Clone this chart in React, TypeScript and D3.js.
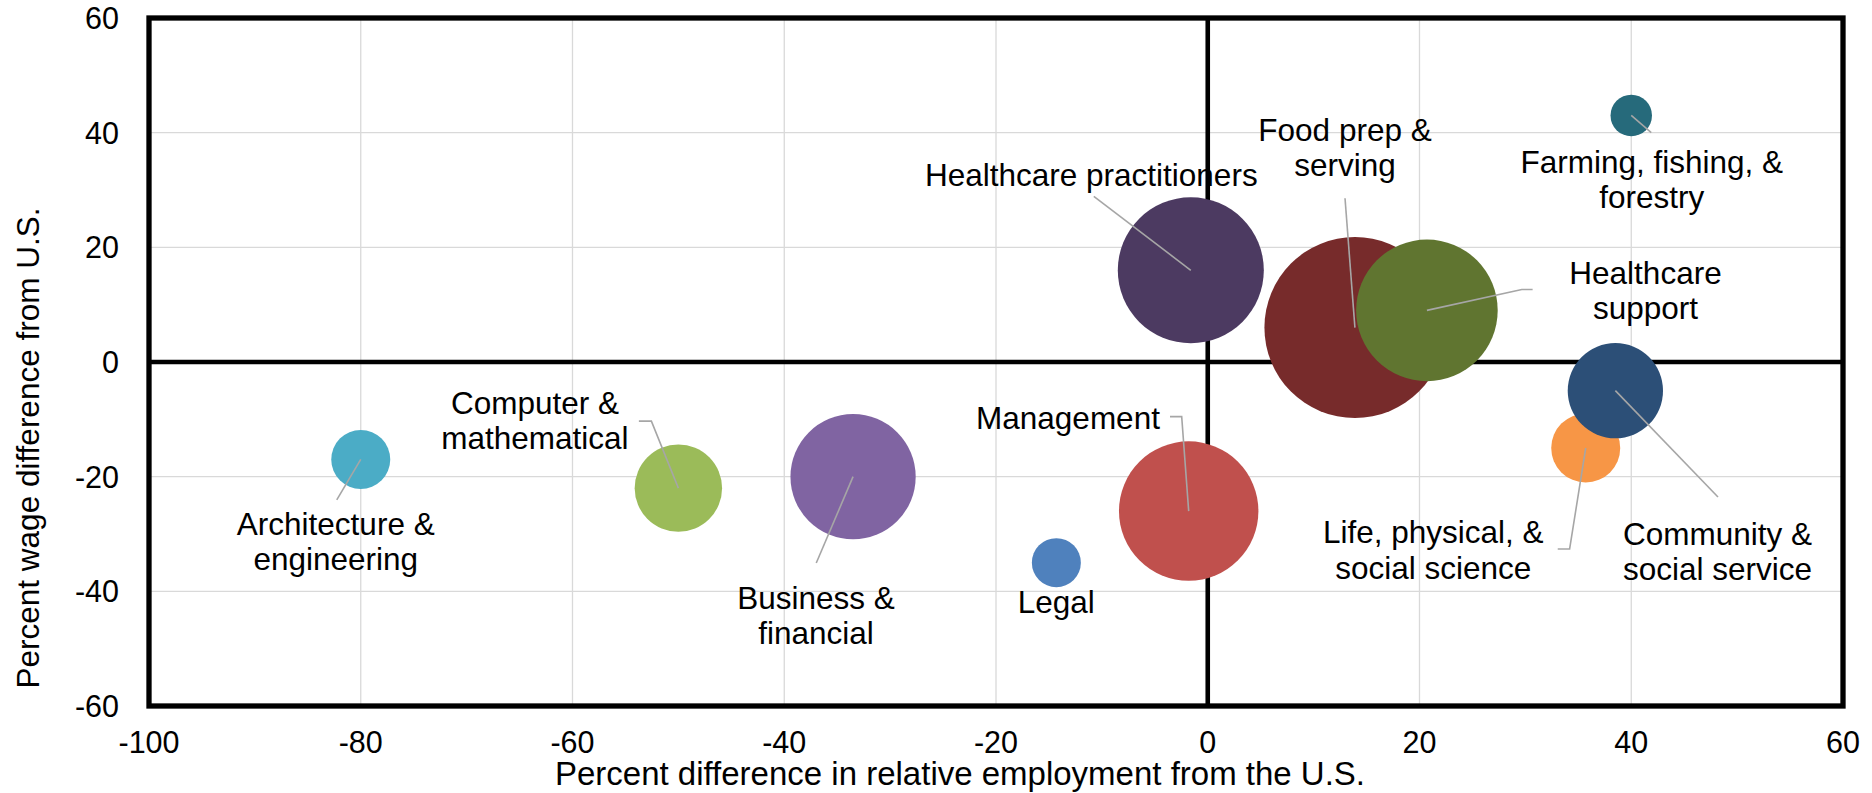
import * as React from 'react'
import * as d3 from 'd3'

// occupational groups, in drawing order (later ones sit on top)
const categories = [
	'Architecture & engineering',
	'Computer & mathematical',
	'Business & financial',
	'Legal',
	'Management',
	'Healthcare practitioners',
	'Food prep & serving',
	'Healthcare support',
	'Farming, fishing, & forestry',
	'Life, physical, & social science',
	'Community & social service',
]
// percent difference in relative employment from the U.S.
const employmentDiff = [-80, -50, -33.5, -14.3, -1.8, -1.6, 13.9, 20.7, 40, 35.7, 38.5]
// percent wage difference from the U.S.
const wageDiff = [-17, -22, -20, -35, -26, 16, 6, 9, 43, -15, -5]
// bubble size (employment, thousands)
const bubbleSize = [87, 191, 392, 60, 486, 533, 819, 501, 43, 119, 227]

const xTicks = [-100, -80, -60, -40, -20, 0, 20, 40, 60]
const yTicks = [-60, -40, -20, 0, 20, 40, 60]

const colors = ['#4bacc6', '#9bbb59', '#8064a2', '#4f81bd', '#c0504d', '#4c3a61', '#772b2b', '#607530', '#266a7b', '#f79646', '#2c4f77']

// label text lines and placement relative to each bubble (px)
const labelLines = [
	['Architecture &', 'engineering'],
	['Computer &', 'mathematical'],
	['Business &', 'financial'],
	['Legal'],
	['Management'],
	['Healthcare practitioners'],
	['Food prep &', 'serving'],
	['Healthcare', 'support'],
	['Farming, fishing, &', 'forestry'],
	['Life, physical, &', 'social science'],
	['Community &', 'social service'],
]
const labelOffset: [number, number][] = [
	[-25, 75.5], [-143.4, -74.4], [-37, 132.3], [0, 50.3], [-120.7, -82.1], [-99.5, -84.4],
	[-9.9, -186.9], [218.6, -26.6], [20.5, 57.2], [-152.5, 95], [102.1, 154.3],
]
const leaderPts: [number, number][][] = [
	[[-24, 40.5]],
	[[-39.5, -67], [-27, -67]],
	[[-36.8, 86.3]],
	[],
	[[-18.7, -94.4], [-7, -94.4]],
	[[-97, -73.8]],
	[[-9.9, -129.3]],
	[[105.7, -20.9], [94.9, -20.9]],
	[[20, 17.2]],
	[[-28, 101], [-16.1, 101]],
	[[102.6, 106.3]],
]

const FONT = '"Liberation Sans", Arial, sans-serif'

function drawChart(node: SVGSVGElement, dims: any) {
	const svg = d3.select(node)
	svg.selectAll('*').remove()

	const x = d3.scaleLinear().domain([-100, 60]).range([dims.left, dims.right])
	const y = d3.scaleLinear().domain([-60, 60]).range([dims.bottom, dims.top])
	const r = d3.scaleSqrt().domain([0, d3.max(bubbleSize)!]).range([0, 90.5])

	// gridlines
	const grid = svg.append('g')
	grid.selectAll('line.gx')
		.data(xTicks)
		.enter()
		.append('line')
		.attr('x1', d => x(d)).attr('x2', d => x(d))
		.attr('y1', dims.top).attr('y2', dims.bottom)
		.attr('stroke', '#d9d9d9').attr('stroke-width', 1.3)
	grid.selectAll('line.gy')
		.data(yTicks)
		.enter()
		.append('line')
		.attr('y1', d => y(d)).attr('y2', d => y(d))
		.attr('x1', dims.left).attr('x2', dims.right)
		.attr('stroke', '#d9d9d9').attr('stroke-width', 1.3)

	// zero axes
	svg.append('line')
		.attr('x1', x(0)).attr('x2', x(0))
		.attr('y1', dims.top).attr('y2', dims.bottom)
		.attr('stroke', '#000').attr('stroke-width', 4.6)
	svg.append('line')
		.attr('x1', dims.left).attr('x2', dims.right)
		.attr('y1', y(0)).attr('y2', y(0))
		.attr('stroke', '#000').attr('stroke-width', 4.6)

	// plot border
	svg.append('rect')
		.attr('x', dims.left).attr('y', dims.top)
		.attr('width', dims.right - dims.left).attr('height', dims.bottom - dims.top)
		.attr('fill', 'none').attr('stroke', '#000').attr('stroke-width', 5.3)

	// bubbles
	svg.append('g')
		.selectAll('circle')
		.data(categories)
		.enter()
		.append('circle')
		.attr('cx', (_, i) => x(employmentDiff[i]))
		.attr('cy', (_, i) => y(wageDiff[i]))
		.attr('r', (_, i) => r(bubbleSize[i]))
		.attr('fill', (_, i) => colors[i])

	// leader lines
	const leaders = svg.append('g')
	categories.forEach((_, i) => {
		if (!leaderPts[i].length) return
		const cx = x(employmentDiff[i])
		const cy = y(wageDiff[i])
		const pts: [number, number][] = leaderPts[i].map(p => [cx + p[0], cy + p[1]])
		pts.push([cx, cy])
		leaders.append('path')
			.attr('d', d3.line()(pts))
			.attr('fill', 'none')
			.attr('stroke', '#a6a6a6')
			.attr('stroke-width', 1.6)
	})

	// labels
	const labels = svg.append('g')
		.attr('font-family', FONT)
		.attr('font-size', 31.5)
		.attr('fill', '#000')
		.attr('text-anchor', 'middle')
	categories.forEach((_, i) => {
		const cx = x(employmentDiff[i]) + labelOffset[i][0]
		const cy = y(wageDiff[i]) + labelOffset[i][1]
		const t = labels.append('text').attr('x', cx).attr('y', cy)
		labelLines[i].forEach((line, j) => {
			t.append('tspan').attr('x', cx).attr('y', cy + j * 35.5).text(line)
		})
	})

	// tick labels
	svg.append('g')
		.attr('font-family', FONT).attr('font-size', 30.5).attr('text-anchor', 'middle')
		.selectAll('text')
		.data(xTicks)
		.enter()
		.append('text')
		.attr('x', d => x(d))
		.attr('y', 753)
		.text(d => `${d}`)
	svg.append('g')
		.attr('font-family', FONT).attr('font-size', 30.5).attr('text-anchor', 'end')
		.selectAll('text')
		.data(yTicks)
		.enter()
		.append('text')
		.attr('x', dims.left - 30)
		.attr('y', d => y(d))
		.attr('dy', '0.36em')
		.text(d => `${d}`)

	// axis titles
	svg.append('text')
		.attr('font-family', FONT).attr('font-size', 33).attr('text-anchor', 'middle')
		.attr('x', 960).attr('y', 785)
		.text('Percent difference in relative employment from the U.S.')
	svg.append('text')
		.attr('font-family', FONT).attr('font-size', 31.5).attr('text-anchor', 'middle')
		.attr('transform', 'translate(39, 448) rotate(-90)')
		.text('Percent wage difference from U.S.')
}

const App: React.FC = () => {
	const dims = { width: 1872, height: 793, left: 149, right: 1843, top: 18, bottom: 706 }
	const svgRef = React.useRef<SVGSVGElement>(null)

	React.useEffect(() => {
		if (svgRef.current) drawChart(svgRef.current, dims)
	}, [])

	return (
		<svg ref={svgRef} width={dims.width} height={dims.height}
			style={{ position: 'fixed', left: 0, top: 0, background: '#fff' }} />
	)
}

export default App
